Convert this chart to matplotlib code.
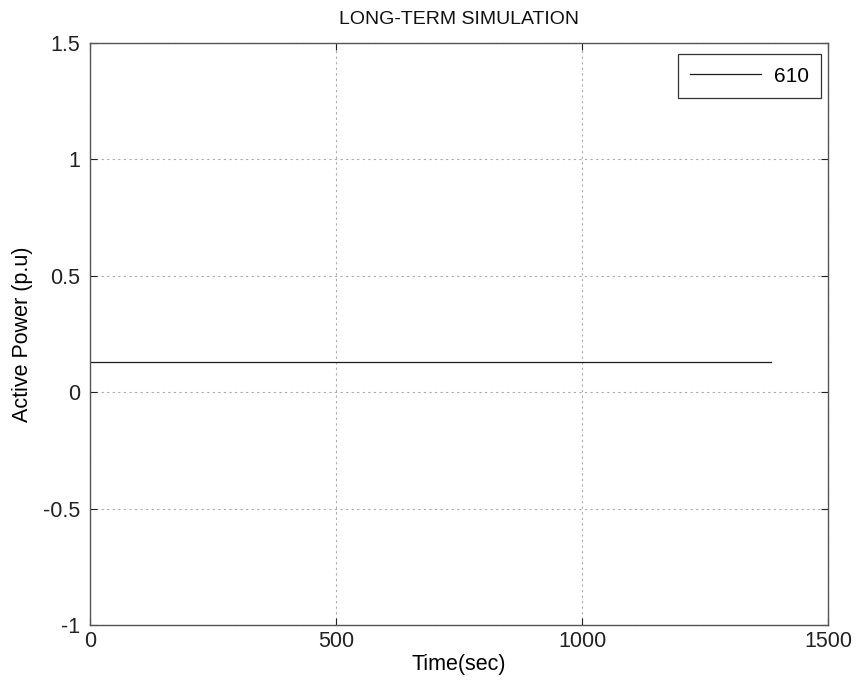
import matplotlib
matplotlib.use("Agg")
import matplotlib.pyplot as plt

plt.rcParams['font.family'] = ['Liberation Sans', 'DejaVu Sans']

# data
time_sec = [0, 1384]
power_610 = [0.129, 0.129]
series_name = "610"
xticks = [0, 500, 1000, 1500]
yticks = [-1, -0.5, 0, 0.5, 1, 1.5]
ytick_labels = ["-1", "-0.5", "0", "0.5", "1", "1.5"]

fig = plt.figure(figsize=(8.59, 6.89), dpi=100)
ax = fig.add_axes([0.1048, 0.0929, 0.8592, 0.8447])

ax.plot(time_sec, power_610, color="#1a1a1a", linewidth=0.9, label=series_name)

ax.set_xlim(0, 1500)
ax.set_ylim(-1, 1.5)
ax.set_xticks(xticks)
ax.set_yticks(yticks)
ax.set_yticklabels(ytick_labels)
ax.tick_params(direction="in", length=5, labelsize=15.5, colors="#222222",
               top=True, right=True, pad=4)
ax.tick_params(axis="y", pad=7)
for s in ax.spines.values():
    s.set_color("#555555")
    s.set_linewidth(1.0)

ax.grid(True, linestyle=(0, (2, 3)), color="#aaaaaa", linewidth=0.8)

ax.set_title("LONG-TERM SIMULATION", fontsize=14, color="#111111", pad=14)
ax.set_xlabel("Time(sec)", fontsize=15.5, labelpad=2)
ax.set_ylabel("Active Power (p.u)", fontsize=15.5, labelpad=7)

leg = ax.legend(loc="upper right", fontsize=15, fancybox=False, framealpha=1,
                edgecolor="#333333", handlelength=3.4, borderpad=0.6,
                handletextpad=0.6, borderaxespad=0,
                bbox_to_anchor=(0.9905, 0.981))
leg.get_frame().set_linewidth(0.9)

fig.savefig("out.png", dpi=100)
